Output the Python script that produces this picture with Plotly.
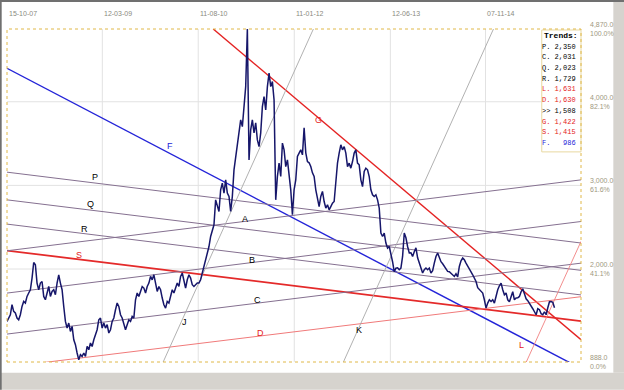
import pandas as pd
import plotly.graph_objects as go

# ---------------- data ----------------
start_date = "2007-10-15"
step = "9D"
close = [
    1373, 1414, 1453, 1573, 1493, 1474, 1414, 1393, 1453, 1552,
    1612, 1593, 1672, 1713, 1752, 1892, 2078, 2051, 1832, 1752,
    1832, 1851, 1672, 1632, 1732, 1791, 1672, 1732, 1752, 1692,
    1832, 1931, 1832, 1752, 1552, 1373, 1294, 1354, 1254, 1313,
    1154, 1095, 996, 915, 975, 955, 996, 955, 1074, 1035,
    1115, 1074, 1154, 1214, 1274, 1393, 1414, 1294, 1354, 1294,
    1334, 1235, 1274, 1373, 1414, 1513, 1593, 1552, 1453, 1414,
    1334, 1274, 1334, 1393, 1373, 1433, 1414, 1632, 1713, 1672,
    1732, 1791, 1772, 1713, 1791, 1832, 1911, 1871, 1931, 1832,
    1732, 1791, 1752, 1653, 1573, 1533, 1612, 1593, 1692, 1752,
    1713, 1772, 1832, 1791, 1911, 1952, 1851, 1772, 1871, 1931,
    1892, 1812, 1791, 1812, 1832, 1832, 1871, 1952, 2030, 2110,
    2191, 2269, 2389, 2469, 2529, 2827, 2747, 2688, 2947, 3027,
    2908, 3066, 2908, 2867, 2688, 2867, 3186, 3345, 3464, 3625,
    3783, 3703, 3983, 4181, 4870, 3305, 3664, 3783, 3628, 3748,
    3544, 3464, 3628, 3942, 4062, 3903, 4181, 4342, 4181, 4241,
    4022, 2827, 3106, 3266, 3106, 3505, 3425, 3225, 3305, 3106,
    2947, 2648, 2947, 3066, 3345, 3386, 3425, 3365, 3688, 3389,
    3285, 3270, 3225, 3150, 3106, 2947, 2827, 2747, 2867, 2927,
    2807, 2728, 2768, 2708, 2747, 2788, 2807, 3031, 3266, 3386,
    3485, 3425, 3464, 3386, 3225, 3266, 3206, 3285, 3386, 3425,
    3266, 3246, 3066, 2986, 3166, 3206, 3186, 3106, 2947, 2887,
    2867, 2887, 2827, 2728, 2430, 2389, 2430, 2310, 2250, 2269,
    2191, 2087, 1967, 2011, 2015, 1991, 2011, 2150, 2430, 2373,
    2269, 2191, 2194, 2150, 2206, 2254, 2134, 2063, 1991, 1952,
    1991, 2011, 1991, 2011, 1952, 1979, 2071, 2150, 2191, 2131,
    2087, 2063, 2030, 2003, 1971, 1967, 1952, 1931, 1911, 1943,
    1907, 2030, 2099, 2131, 2110, 2071, 2030, 1991, 1967, 1931,
    1895, 1851, 1776, 1752, 1732, 1713, 1632, 1533, 1593, 1632,
    1612, 1632, 1593, 1692, 1752, 1800, 1832, 1752, 1692, 1713,
    1632, 1609, 1680, 1728, 1632, 1653, 1656, 1672, 1728, 1764,
    1704, 1644, 1621, 1593, 1552, 1525, 1489, 1453, 1525, 1513,
    1465, 1453, 1489, 1453, 1537, 1609, 1612, 1603, 1537,
]

x_range = ["2007-10-15", "2016-04-05"]
y_min, y_max = 888.0, 4870.0

# trend lines: name, start date, start value, end date, end value
line_names = ["F", "G", "S", "P", "Q", "R", "A", "B", "C", "D", "L", "J", "K"]
line_x0 = ["2007-10-15", "2010-10-31", "2007-10-15", "2007-10-15", "2007-10-15",
           "2007-10-15", "2007-10-15", "2007-10-15", "2007-10-15", "2007-10-15",
           "2015-06-15", "2010-02-03", "2012-10-02"]
line_y0 = [4400, 4870, 2221, 3158, 2827, 2537, 2218, 1712, 1222, 828, 888, 888, 888]
line_x1 = ["2016-04-05", "2016-04-05", "2016-04-05", "2016-04-05", "2016-04-05",
           "2016-04-05", "2016-04-05", "2016-04-05", "2016-04-05", "2016-04-05",
           "2016-04-05", "2012-04-23", "2014-12-20"]
line_y1 = [810, 1155, 1376, 2311, 1984, 1690, 3066, 2568, 2070, 1669, 2330, 4870, 4870]
line_color = ["#2424d8", "#e42222", "#e42a2a", "#857090", "#857090", "#857090",
              "#857090", "#857090", "#857090", "#f07a7a", "#f08080", "#a8a8a8", "#a8a8a8"]
line_width = [1.4, 1.4, 1.8, 1.0, 1.0, 1.0, 1.0, 1.0, 1.0, 1.0, 0.9, 0.9, 0.9]

# letter labels (paper coords)
lab_text = ["P", "Q", "R", "S", "F", "G", "A", "B", "C", "D", "J", "K", "L"]
lab_px = [90, 85, 79, 74, 165, 318, 245, 252, 258, 261, 180, 359, 526]
lab_py = [177, 204, 229, 262, 146, 113, 219, 267, 307, 340, 329, 337, 352]
lab_col = ["#000000", "#000000", "#000000", "#e42222", "#2424d8", "#e42222",
           "#000000", "#000000", "#000000", "#e42222", "#000000", "#000000", "#e42222"]

grid_dates = ["2007-10-15", "2009-03-12", "2010-08-11", "2012-01-11", "2013-06-12", "2014-11-07"]
grid_labels = ["15-10-07", "12-03-09", "11-08-10", "11-01-12", "12-06-13", "07-11-14"]

right_vals = [4870, 4000, 3000, 2000, 888]
right_val_text = ["4,870.0", "4,000.0", "3,000.0", "2,000.0", "888.0"]
right_pct_text = ["100.0%", "82.1%", "61.6%", "41.1%", "0.0%"]

trend_keys = ["P.", "C.", "Q.", "R.", "L.", "D.", ">>", "G.", "S.", "F."]
trend_vals = [2350, 2031, 2023, 1729, 1631, 1630, 1508, 1422, 1415, 986]
trend_cols = ["#000000", "#000000", "#000000", "#000000", "#e42222", "#e42222",
              "#000000", "#e42222", "#e42222", "#2424d8"]

# ---------------- figure ----------------
W, H = 624, 390
L, R, T, B = 7.3, 580.7, 29.0, 362.3

def px(xp):
    return (xp - L) / (R - L)

def py(yp):
    return (B - yp) / (B - T)

dates = pd.date_range(start_date, periods=len(close), freq=step)

fig = go.Figure()

for i, n in enumerate(line_names):
    fig.add_trace(go.Scatter(
        x=[line_x0[i], line_x1[i]], y=[line_y0[i], line_y1[i]],
        mode="lines", line=dict(color=line_color[i], width=line_width[i]),
        hoverinfo="skip", showlegend=False))

fig.add_trace(go.Scatter(x=dates, y=close, mode="lines",
                         line=dict(color="#16166a", width=1.5),
                         showlegend=False))

ann = []
for t, xp_, yp_, c in zip(lab_text, lab_px, lab_py, lab_col):
    ann.append(dict(x=px(xp_), y=py(yp_), xref="paper", yref="paper", text=t,
                    showarrow=False, font=dict(family="Liberation Sans, Arial", size=9, color=c)))

for d, t in zip(grid_dates, grid_labels):
    ann.append(dict(x=d, y=py(13), xref="x", yref="paper", text=t, xanchor="left",
                    yanchor="middle", xshift=0, showarrow=False,
                    font=dict(family="Liberation Sans Narrow, Liberation Sans, Arial", size=7, color="#8a8a80")))

for v, vt, pt in zip(right_vals, right_val_text, right_pct_text):
    ann.append(dict(x=px(588), y=v, xref="paper", yref="y", text=vt + "<br>" + pt,
                    xanchor="left", yanchor="middle", align="left", showarrow=False,
                    font=dict(family="Liberation Sans Narrow, Liberation Sans, Arial", size=7, color="#a09880")))

ann.append(dict(x=px(542), y=py(36), xref="paper", yref="paper", text="<b>Trends:</b>",
                xanchor="left", yanchor="middle", showarrow=False,
                font=dict(family="Liberation Mono, Courier New, monospace", size=8, color="#000000")))
for i, (k, v, c) in enumerate(zip(trend_keys, trend_vals, trend_cols)):
    ann.append(dict(x=px(578), y=py(46.7 + 10.7 * i), xref="paper", yref="paper",
                    text=f"{k} {v:>5,}", xanchor="right", yanchor="middle", showarrow=False,
                    font=dict(family="Liberation Mono, Courier New, monospace", size=7, color=c)))

shapes = []
# vertical gridlines
for d in grid_dates[1:]:
    shapes.append(dict(type="line", xref="x", yref="paper", x0=d, x1=d, y0=0, y1=1,
                       line=dict(color="#e2e2e2", width=1), layer="below"))
for v in right_vals[1:4]:
    shapes.append(dict(type="line", xref="paper", yref="y", x0=0, x1=1, y0=v, y1=v,
                       line=dict(color="#e2e2e2", width=1), layer="below"))
# legend box
shapes.append(dict(type="rect", xref="paper", yref="paper", x0=px(541.5), x1=1.0,
                   y0=py(152), y1=py(30), fillcolor="#ffffff",
                   line=dict(color="#e8d8a0", width=1), layer="above"))
# dotted plot border
shapes.append(dict(type="rect", xref="paper", yref="paper", x0=0, x1=1, y0=0, y1=1,
                   line=dict(color="#e0b848", width=1, dash="dot"), layer="above"))
# window chrome
shapes.append(dict(type="rect", xref="paper", yref="paper", x0=px(0), x1=px(624),
                   y0=py(390), y1=py(373), fillcolor="#d6d3ce", line=dict(width=0)))
shapes.append(dict(type="rect", xref="paper", yref="paper", x0=px(613), x1=px(624),
                   y0=py(373), y1=py(0), fillcolor="#d6d3ce", line=dict(width=0)))
shapes.append(dict(type="rect", xref="paper", yref="paper", x0=px(0), x1=px(624),
                   y0=py(2), y1=py(0), fillcolor="#707070", line=dict(width=0)))
shapes.append(dict(type="rect", xref="paper", yref="paper", x0=px(0), x1=px(2),
                   y0=py(390), y1=py(0), fillcolor="#707070", line=dict(width=0)))

fig.update_layout(
    width=W, height=H,
    margin=dict(l=L, r=W - R, t=T, b=H - B),
    paper_bgcolor="#ffffff", plot_bgcolor="#ffffff",
    xaxis=dict(type="date", range=x_range, showgrid=False, showticklabels=False,
               zeroline=False, showline=False, fixedrange=True),
    yaxis=dict(range=[y_min, y_max], showgrid=False, showticklabels=False,
               zeroline=False, showline=False, fixedrange=True),
    annotations=ann, shapes=shapes, showlegend=False,
)

fig.write_html("out.html", config={"displayModeBar": False},
               post_script="document.body.style.margin='0px';document.body.style.overflow='hidden';")
